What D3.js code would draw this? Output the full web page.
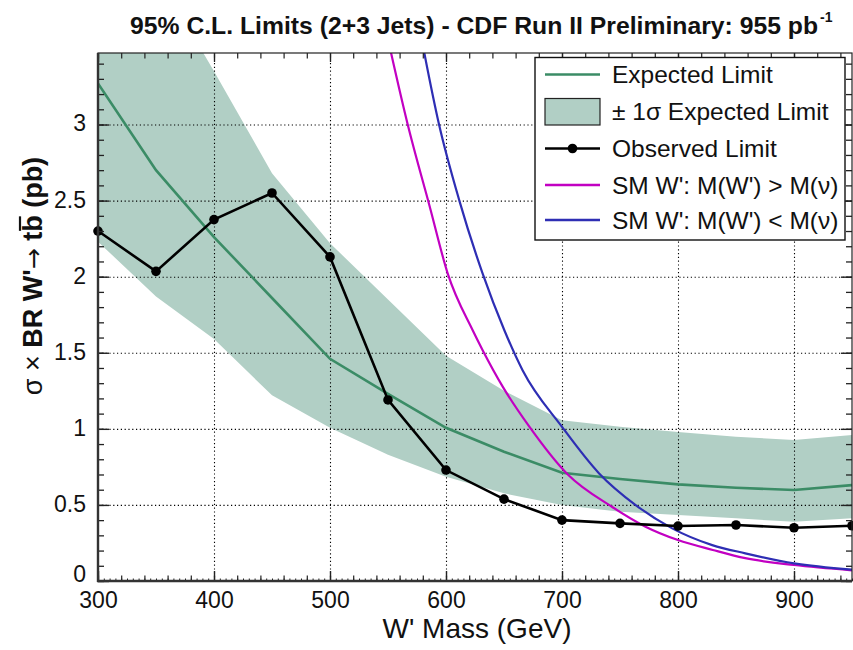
<!DOCTYPE html>
<html><head><meta charset="utf-8">
<script src="https://cdn.jsdelivr.net/npm/d3@7"></script>
<style>body{margin:0;background:#fff}svg{display:block}</style>
</head><body>
<svg id="chart" width="853" height="650"></svg>
<script>
// ---------- data ----------
const masses      = [300,350,400,450,500,550,600,650,700,750,800,850,900,950];
const expected    = [3.27,2.70,2.26,1.86,1.46,1.23,1.007,0.85,0.711,0.67,0.635,0.613,0.598,0.63];
const bandLow     = [2.23,1.87,1.59,1.22,1.007,0.83,0.685,0.576,0.499,0.455,0.433,0.412,0.389,0.412];
const bandHigh    = [4.7,4.0,3.35,2.68,2.22,1.85,1.48,1.25,1.057,1.013,0.98,0.948,0.926,0.959];
const observed    = [2.30,2.035,2.375,2.55,2.13,1.19,0.729,0.538,0.40,0.379,0.361,0.368,0.35,0.363];
const smGtMass    = [550,567,586,601.5,623,631.6,649,672,705,743,772,800,830,858,900,950];
const smGtVal     = [3.56,3.0,2.46,2.02,1.648,1.517,1.276,1.013,0.70,0.488,0.357,0.269,0.204,0.15,0.105,0.07];
const smLtMass    = [578,594,611.5,631.6,650.3,666,700,732,763.5,795,829.5,858,900,950];
const smLtVal     = [3.6,3.0,2.5,2.02,1.648,1.385,1.013,0.707,0.499,0.346,0.236,0.182,0.116,0.075];
const xTickValues = [300,400,500,600,700,800,900];
const xTickLabels = ["300","400","500","600","700","800","900"];
const yTickValues = [0,0.5,1,1.5,2,2.5,3];
const yTickLabels = ["0","0.5","1","1.5","2","2.5","3"];
const legendLabels = ["Expected Limit","\u00B1 1\u03C3 Expected Limit","Observed Limit","SM W': M(W') > M(\u03BD)","SM W': M(W') < M(\u03BD)"];

// ---------- layout ----------
const L=98, R=852, T=53, B=581;
const FONT = "'Liberation Sans', Arial, Helvetica, sans-serif";
const C = {band:"#b1cfc5", exp:"#3b8c66", obs:"#000", mag:"#c200c2", blue:"#2e2eb4"};

const svg = d3.select("#chart");
const x = d3.scaleLinear().domain([300,950]).range([L,R]);
const y = d3.scaleLinear().domain([0,3.47]).range([B,T]);

svg.append("defs").append("clipPath").attr("id","plotclip")
  .append("rect").attr("x",L).attr("y",T).attr("width",R-L).attr("height",B-T);

const plot = svg.append("g").attr("clip-path","url(#plotclip)");

// band
const bandData = masses.map((m,i)=>({m, lo:bandLow[i], hi:bandHigh[i]}));
plot.append("path").datum(bandData)
  .attr("d", d3.area().x(d=>x(d.m)).y0(d=>y(d.lo)).y1(d=>y(d.hi)))
  .attr("fill", C.band);

// grid
const gridStyle = g => { g.select(".domain").remove();
  g.selectAll("line").attr("stroke","#000").attr("stroke-width",1.1).attr("stroke-dasharray","1.2,2.6"); };
svg.append("g").attr("transform",`translate(0,${B})`)
  .call(d3.axisBottom(x).tickValues([400,500,600,700,800,900]).tickSize(-(B-T)).tickFormat(""))
  .call(gridStyle);
svg.append("g").attr("transform",`translate(${L},0)`)
  .call(d3.axisLeft(y).tickValues([0.5,1,1.5,2,2.5,3]).tickSize(-(R-L)).tickFormat(""))
  .call(gridStyle);

const plot2 = svg.append("g").attr("clip-path","url(#plotclip)");
const line = d3.line().x(d=>x(d[0])).y(d=>y(d[1]));
const smooth = d3.line().x(d=>x(d[0])).y(d=>y(d[1])).curve(d3.curveMonotoneX);
plot2.append("path").datum(masses.map((m,i)=>[m,expected[i]])).attr("d",line)
  .attr("fill","none").attr("stroke",C.exp).attr("stroke-width",2.6);
plot2.append("path").datum(smGtMass.map((m,i)=>[m,smGtVal[i]])).attr("d",smooth)
  .attr("fill","none").attr("stroke",C.mag).attr("stroke-width",2.2);
plot2.append("path").datum(smLtMass.map((m,i)=>[m,smLtVal[i]])).attr("d",smooth)
  .attr("fill","none").attr("stroke",C.blue).attr("stroke-width",2.2);
plot2.append("path").datum(masses.map((m,i)=>[m,observed[i]])).attr("d",line)
  .attr("fill","none").attr("stroke",C.obs).attr("stroke-width",2.6);
svg.append("g").selectAll("circle").data(masses.map((m,i)=>[m,observed[i]])).join("circle")
  .attr("cx",d=>x(d[0])).attr("cy",d=>y(d[1])).attr("r",4.8).attr("fill","#000");

// axes & ticks
const noDomain = g => g.select(".domain").remove();
const tickStyle = (g,w) => g.selectAll("line").attr("stroke","#222").attr("stroke-width",w||1.2);
// bottom
svg.append("g").attr("transform",`translate(0,${B})`)
  .call(d3.axisBottom(x).tickValues(d3.range(300,951,5)).tickSize(-2.5).tickFormat(""))
  .call(noDomain).call(g=>tickStyle(g,1));
svg.append("g").attr("transform",`translate(0,${B})`)
  .call(d3.axisBottom(x).tickValues(d3.range(300,951,20)).tickSize(-5.5).tickFormat(""))
  .call(noDomain).call(g=>tickStyle(g,1.2));
const xAx = svg.append("g").attr("transform",`translate(0,${B})`)
  .call(d3.axisBottom(x).tickValues(xTickValues).tickSize(-10).tickPadding(11).tickFormat((d,i)=>xTickLabels[i]))
  .call(noDomain).call(g=>tickStyle(g,1.4));
xAx.selectAll("text").attr("font-family",FONT).attr("font-size",23).attr("fill","#111");
// top
svg.append("g").attr("transform",`translate(0,${T})`)
  .call(d3.axisTop(x).tickValues(d3.range(300,951,20)).tickSize(-5.5).tickFormat(""))
  .call(noDomain).call(g=>tickStyle(g,1.2));
svg.append("g").attr("transform",`translate(0,${T})`)
  .call(d3.axisTop(x).tickValues(xTickValues).tickSize(-9).tickFormat(""))
  .call(noDomain).call(g=>tickStyle(g,1.3));
// left
svg.append("g").attr("transform",`translate(${L},0)`)
  .call(d3.axisLeft(y).tickValues(d3.range(0,3.45,0.1)).tickSize(-6).tickFormat(""))
  .call(noDomain).call(g=>tickStyle(g,1.3));
const yAx = svg.append("g").attr("transform",`translate(${L},0)`)
  .call(d3.axisLeft(y).tickValues(yTickValues).tickSize(-11).tickPadding(12).tickFormat((d,i)=>yTickLabels[i]))
  .call(noDomain).call(g=>tickStyle(g,1.4));
yAx.selectAll("text").attr("font-family",FONT).attr("font-size",23).attr("fill","#111")
  .attr("dy",(d)=> d===0 ? "0em" : "0.28em");
// right
svg.append("g").attr("transform",`translate(${R},0)`)
  .call(d3.axisRight(y).tickValues(d3.range(0,3.45,0.1)).tickSize(-6).tickFormat(""))
  .call(noDomain).call(g=>tickStyle(g,1.3));
svg.append("g").attr("transform",`translate(${R},0)`)
  .call(d3.axisRight(y).tickValues(yTickValues).tickSize(-11).tickFormat(""))
  .call(noDomain).call(g=>tickStyle(g,1.4));

// frame
svg.append("rect").attr("x",L).attr("y",T).attr("width",R-L).attr("height",B-T)
  .attr("fill","none").attr("stroke","#222").attr("stroke-width",1.2);
svg.append("line").attr("x1",L).attr("x2",L).attr("y1",T).attr("y2",B+1).attr("stroke","#333").attr("stroke-width",2.4);
svg.append("line").attr("x1",L-1).attr("x2",R).attr("y1",B).attr("y2",B).attr("stroke","#333").attr("stroke-width",2.4);

// legend
const lg = svg.append("g");
lg.append("rect").attr("x",535).attr("y",57.5).attr("width",310).attr("height",182.5)
  .attr("fill","#fff").attr("stroke","#111").attr("stroke-width",1.4);
const rowY = [74.5,111.5,148.5,185,220];
const lx1=545, lx2=600;
lg.append("line").attr("x1",lx1).attr("x2",lx2).attr("y1",rowY[0]).attr("y2",rowY[0]).attr("stroke",C.exp).attr("stroke-width",2.6);
lg.append("rect").attr("x",lx1).attr("y",98.5).attr("width",lx2-lx1).attr("height",26.5).attr("fill",C.band).attr("stroke","#222").attr("stroke-width",1.2);
lg.append("line").attr("x1",lx1).attr("x2",lx2).attr("y1",rowY[2]).attr("y2",rowY[2]).attr("stroke","#000").attr("stroke-width",2.6);
lg.append("circle").attr("cx",(lx1+lx2)/2).attr("cy",rowY[2]).attr("r",4.8).attr("fill","#000");
lg.append("line").attr("x1",lx1).attr("x2",lx2).attr("y1",rowY[3]).attr("y2",rowY[3]).attr("stroke",C.mag).attr("stroke-width",2.4);
lg.append("line").attr("x1",lx1).attr("x2",lx2).attr("y1",rowY[4]).attr("y2",rowY[4]).attr("stroke",C.blue).attr("stroke-width",2.4);
lg.selectAll("text.lt").data(legendLabels).join("text").attr("class","lt")
  .attr("x",612).attr("y",(d,i)=>rowY[i]+8.5).text(d=>d)
  .attr("font-family",FONT).attr("font-size",24.5).attr("fill","#111");

// title
const title = svg.append("text").attr("x",130).attr("y",34)
  .attr("font-family",FONT).attr("font-weight","bold").attr("font-size",24).attr("fill","#111")
  .text("95% C.L. Limits (2+3 Jets) - CDF Run II Preliminary: 955 pb");
title.attr("textLength",688).attr("lengthAdjust","spacingAndGlyphs");
svg.append("text").attr("x",820).attr("y",22).attr("font-family",FONT).attr("font-weight","bold")
  .attr("font-size",14).attr("fill","#111").text("-1");

// x axis title
svg.append("text").attr("x",477).attr("y",638).attr("text-anchor","middle")
  .attr("font-family",FONT).attr("font-size",28).attr("fill","#111").text("W' Mass (GeV)");

// y axis title
const yt = svg.append("g").attr("transform","translate(32,276) rotate(-90)");
const ytxt = yt.append("text").attr("x",0).attr("y",10).attr("text-anchor","middle")
  .attr("font-family",FONT).attr("font-size",27).attr("fill","#111");
ytxt.append("tspan").text("\u03C3 \u00D7 ");
ytxt.append("tspan").attr("font-weight","bold").text("BR W'");
ytxt.append("tspan").attr("font-family","'DejaVu Sans', sans-serif").attr("font-size",25).text("\u2192");
ytxt.append("tspan").attr("font-weight","bold").text(" tb  (pb)");
const node = ytxt.node();
const full = node.textContent;
const bi = full.indexOf("tb") + 1;
const s = node.getStartPositionOfChar(bi), e = node.getEndPositionOfChar(bi);
yt.append("line").attr("x1",s.x+1).attr("x2",e.x-1).attr("y1",10-22).attr("y2",10-22)
  .attr("stroke","#111").attr("stroke-width",2.2);
</script>
</body></html>
